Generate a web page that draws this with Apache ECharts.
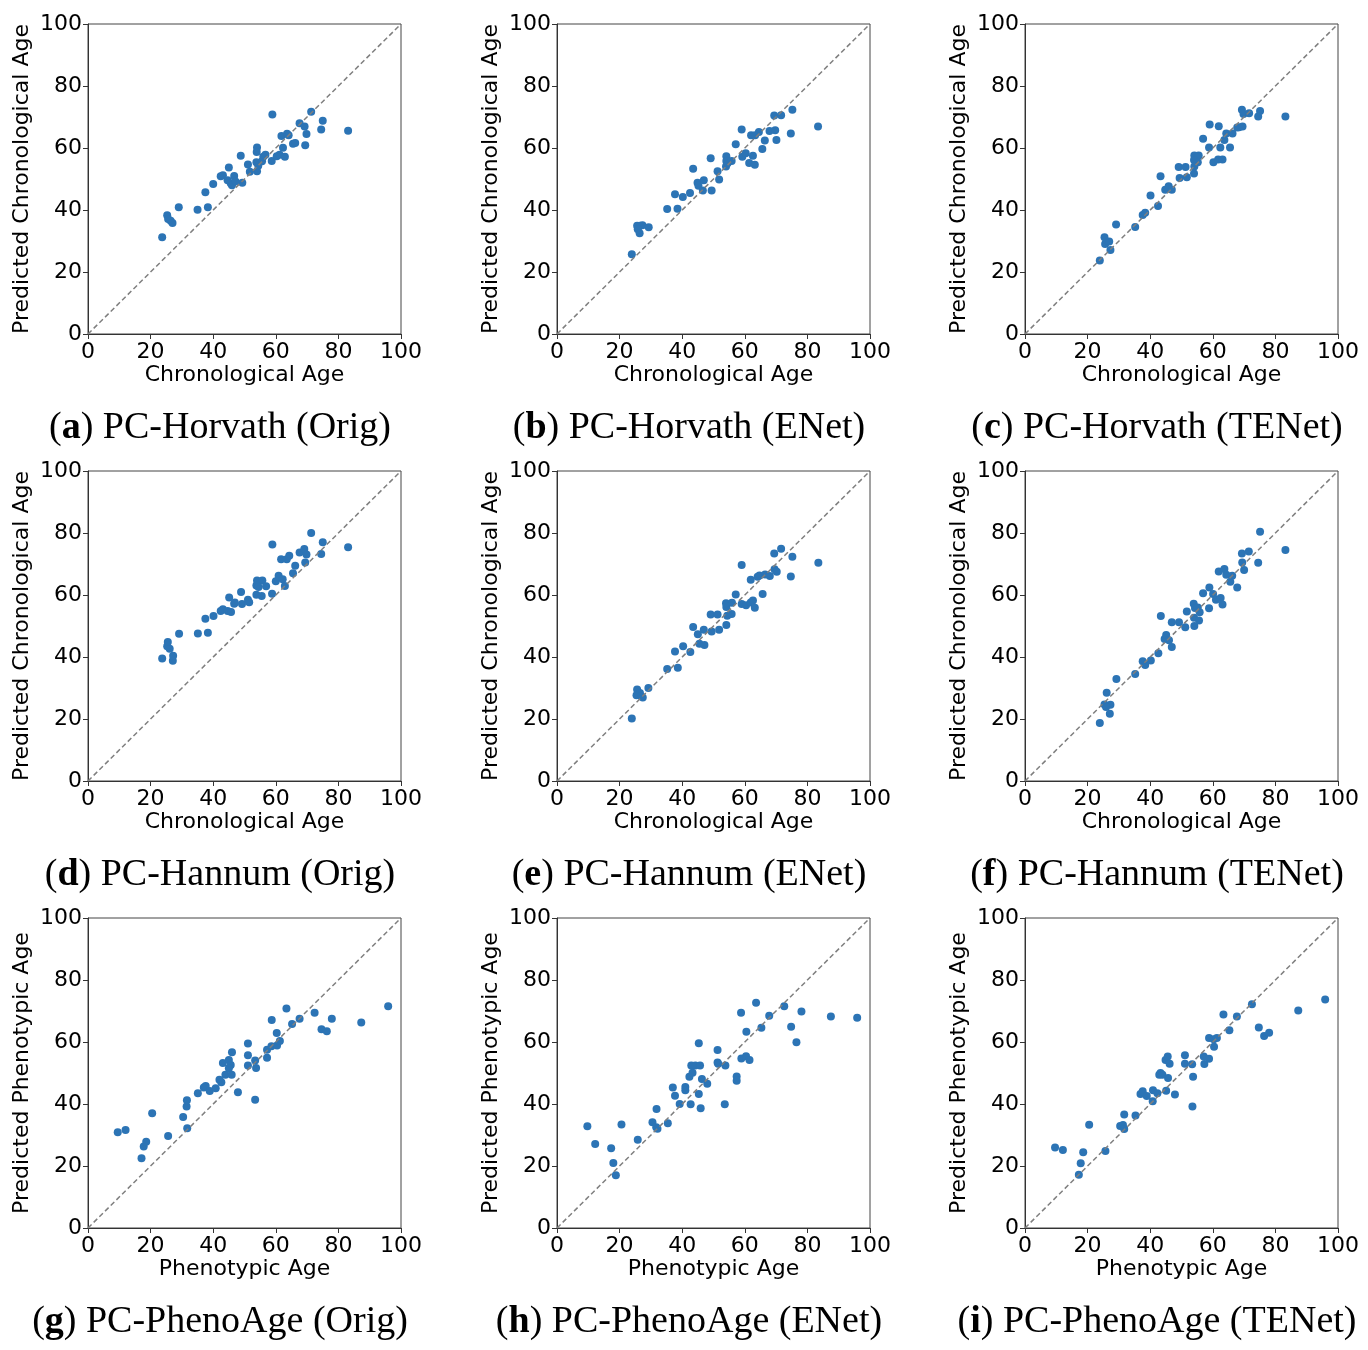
<!DOCTYPE html>
<html>
<head>
<meta charset="utf-8">
<script src="https://cdn.jsdelivr.net/npm/echarts@6/dist/echarts.min.js"></script>
<style>
html,body{margin:0;padding:0;background:#fff;}
#chart{width:1368px;height:1350px;}
</style>
</head>
<body>
<div id="chart"></div>
<script>
const horvathOrig = [[23.7,31.2],[25.3,38.3],[25.6,37.1],[26.4,36.5],[27.0,35.8],[29.0,40.9],[35.0,40.1],[37.5,45.7],[38.3,40.9],[40.0,48.4],[42.4,50.9],[43.1,51.2],[45.0,53.7],[44.6,49.6],[45.6,48.6],[46.0,48.0],[46.7,51.0],[47.1,49.2],[48.8,57.5],[49.3,48.8],[51.1,54.7],[51.7,52.3],[54.0,60.2],[53.9,58.7],[53.8,55.4],[54.0,52.5],[54.4,54.3],[55.6,55.7],[56.0,57.2],[56.7,57.8],[58.9,70.8],[58.7,55.8],[60.3,57.3],[61.2,57.8],[62.9,57.2],[62.3,60.1],[61.8,63.9],[63.6,64.6],[64.1,64.1],[65.5,61.4],[66.2,61.6],[67.6,68.0],[69.2,66.9],[69.8,64.5],[69.4,60.9],[71.3,71.7],[75.0,68.8],[74.5,66.0],[83.1,65.6]];
const horvathENet = [[23.9,25.7],[25.6,34.9],[26.5,34.9],[27.3,35.1],[25.8,33.8],[26.4,32.5],[29.3,34.4],[35.2,40.3],[38.5,40.4],[37.7,45.1],[40.2,44.2],[42.5,45.5],[43.5,53.3],[44.9,48.8],[45.2,47.8],[46.9,49.6],[46.6,46.3],[49.4,46.3],[49.1,56.7],[51.3,52.5],[51.8,49.8],[54.1,57.3],[54.1,55.8],[54.0,54.0],[54.5,55.1],[55.8,55.8],[57.1,61.2],[59.0,66.0],[59.2,57.2],[60.3,58.3],[61.4,55.2],[62.6,57.5],[63.2,54.6],[62.0,64.1],[63.3,64.1],[64.5,65.2],[65.6,59.7],[66.4,62.4],[67.9,65.5],[69.7,65.7],[70.1,62.6],[69.4,70.5],[71.6,70.6],[75.2,72.3],[74.7,64.7],[83.4,66.9]];
const horvathTENet = [[23.9,23.7],[27.3,27.1],[25.4,31.2],[25.6,29.0],[26.9,29.8],[29.1,35.3],[35.2,34.5],[37.6,38.4],[38.4,39.1],[42.5,41.3],[40.1,44.7],[43.3,50.9],[44.8,46.5],[45.9,47.7],[46.9,46.5],[49.1,53.9],[51.3,53.9],[49.4,50.3],[51.7,50.6],[54.0,51.8],[54.1,57.6],[55.5,57.6],[54.0,56.1],[55.2,55.4],[54.1,54.0],[56.9,63.0],[58.8,60.2],[59.0,67.6],[60.2,55.4],[61.7,56.3],[63.1,56.3],[62.4,60.2],[61.9,67.0],[63.7,62.6],[64.3,64.7],[65.5,60.2],[66.3,64.7],[67.8,66.6],[68.4,66.7],[69.5,66.9],[69.3,72.3],[69.8,71.0],[71.6,71.2],[75.1,71.9],[74.5,70.2],[83.2,70.2]];
const hannumOrig = [[23.7,39.5],[27.1,38.8],[27.2,40.4],[26.1,42.7],[25.3,43.5],[25.5,44.8],[29.1,47.5],[35.1,47.6],[38.3,47.8],[37.5,52.3],[40.1,53.2],[42.4,54.8],[43.1,55.4],[44.6,54.8],[45.7,54.5],[45.1,59.2],[46.7,57.2],[46.9,57.6],[48.9,61.0],[49.2,57.1],[51.1,58.5],[51.5,57.7],[54.0,64.7],[55.7,64.7],[53.8,63.1],[54.5,62.6],[56.9,62.8],[53.8,60.1],[55.5,59.7],[58.8,60.4],[58.9,76.3],[60.0,64.4],[60.9,66.2],[62.2,65.1],[62.9,62.9],[61.7,71.5],[63.5,71.5],[64.3,72.7],[65.5,67.0],[66.2,69.4],[67.6,73.7],[69.1,74.8],[69.8,73.1],[69.4,70.5],[71.3,80.0],[75.0,77.0],[74.5,73.2],[83.1,75.4]];
const hannumENet = [[23.9,20.2],[25.6,29.5],[26.5,28.4],[25.4,27.7],[26.9,27.3],[27.4,26.9],[29.2,30.0],[35.2,36.1],[38.6,36.5],[37.7,41.8],[40.3,43.5],[42.6,41.6],[43.5,49.7],[45.0,47.3],[45.5,44.3],[47.1,43.9],[46.9,48.8],[49.4,48.2],[49.1,53.7],[51.3,53.7],[51.8,48.8],[54.1,50.3],[54.1,56.1],[54.0,57.3],[54.4,53.3],[55.8,53.9],[55.9,57.5],[57.1,60.2],[59.0,69.7],[59.0,57.1],[60.4,56.7],[61.9,57.6],[62.6,58.2],[63.2,55.9],[61.9,64.9],[64.1,65.9],[64.7,66.3],[65.7,60.3],[66.5,66.6],[68.0,66.1],[69.5,68.3],[70.2,67.5],[69.4,73.4],[71.6,74.9],[75.2,72.3],[74.7,66.0],[83.5,70.4]];
const hannumTENet = [[23.9,18.7],[27.1,21.7],[27.3,24.6],[25.4,24.7],[25.9,23.9],[26.1,28.5],[29.2,32.9],[35.2,34.5],[37.6,38.6],[38.4,37.4],[40.2,38.9],[42.6,41.2],[43.4,53.2],[44.6,45.8],[45.1,47.1],[46.0,45.4],[46.9,43.2],[46.9,51.2],[49.2,51.2],[51.2,49.6],[51.7,54.7],[54.1,50.0],[54.0,52.7],[53.9,57.2],[54.3,55.8],[55.2,56.0],[55.8,54.4],[55.6,51.8],[56.9,60.6],[58.8,55.7],[58.9,62.4],[60.1,60.3],[61.0,58.5],[62.5,59.0],[63.1,56.9],[61.9,67.6],[63.7,68.4],[64.3,66.5],[66.2,66.2],[65.6,64.3],[67.8,62.4],[69.4,70.5],[70.0,68.1],[69.3,73.4],[71.5,74.0],[75.1,80.4],[74.5,70.4],[83.2,74.5]];
const phenoOrig = [[9.5,30.9],[12.0,31.6],[17.1,22.5],[17.8,26.3],[18.6,27.8],[20.5,37.0],[25.6,29.7],[30.4,35.8],[31.5,39.2],[31.6,41.2],[31.7,32.2],[35.1,43.5],[37.0,45.3],[37.6,45.8],[38.9,44.2],[40.8,45.1],[42.0,47.8],[42.6,47.0],[43.9,49.4],[43.1,53.2],[45.0,54.2],[45.6,52.6],[45.0,51.5],[46.0,56.7],[45.9,49.4],[47.9,43.8],[51.1,59.5],[51.1,55.7],[51.1,52.4],[53.4,54.0],[53.7,51.6],[53.4,41.4],[57.2,57.5],[57.2,54.9],[58.7,67.1],[58.6,58.6],[60.3,62.9],[60.4,58.9],[61.3,60.3],[63.4,70.8],[65.2,65.8],[67.6,67.5],[72.4,69.4],[74.6,64.1],[76.3,63.5],[77.9,67.5],[87.3,66.3],[95.9,71.5]];
const phenoENet = [[9.7,32.8],[12.2,27.1],[17.3,25.7],[18.0,21.0],[18.8,17.0],[20.6,33.4],[25.8,28.5],[30.5,34.1],[31.7,32.5],[31.8,38.4],[32.1,32.0],[35.4,33.8],[37.0,45.3],[37.7,42.7],[39.2,40.0],[41.0,45.5],[41.0,44.4],[42.7,39.9],[42.3,48.8],[43.3,50.1],[42.9,52.4],[44.2,52.4],[45.7,52.4],[45.3,59.6],[46.3,48.1],[45.3,43.2],[45.9,38.6],[48.0,46.5],[51.3,57.4],[51.3,53.4],[51.5,53.0],[53.8,52.4],[53.6,39.9],[57.4,48.9],[57.4,47.5],[58.8,69.4],[58.9,54.7],[60.4,55.4],[61.5,54.2],[60.5,63.3],[63.6,72.7],[65.3,64.6],[67.8,68.5],[72.6,71.5],[74.8,64.9],[76.5,59.9],[78.1,69.8],[87.5,68.2],[95.9,67.8]];
const phenoTENet = [[9.6,26.0],[12.1,25.2],[17.2,17.2],[17.8,20.9],[18.6,24.4],[20.5,33.3],[25.7,24.8],[30.4,32.9],[31.3,33.2],[31.7,36.6],[31.7,31.9],[35.3,36.3],[36.9,43.2],[37.6,44.1],[38.9,42.6],[40.8,40.9],[40.9,44.4],[42.3,43.5],[42.9,49.4],[43.3,50.0],[43.9,49.4],[45.1,44.3],[44.9,54.2],[45.6,55.3],[46.2,53.0],[45.7,48.4],[47.9,43.1],[51.1,55.7],[51.1,53.0],[53.4,52.8],[53.7,48.8],[53.5,39.2],[57.1,55.3],[57.3,52.9],[58.8,54.6],[58.8,61.3],[60.3,60.9],[61.3,61.3],[60.4,58.5],[63.4,68.9],[65.3,63.8],[67.7,68.2],[72.5,72.2],[74.7,64.7],[76.4,61.9],[78.0,63.0],[87.3,70.2],[95.9,73.7]];
const identityLine = [[0,0],[100,100]];

const panelData = [horvathOrig, horvathENet, horvathTENet, hannumOrig, hannumENet, hannumTENet, phenoOrig, phenoENet, phenoTENet];
const panelLetters = ['a','b','c','d','e','f','g','h','i'];
const panelNames = ['PC-Horvath (Orig)','PC-Horvath (ENet)','PC-Horvath (TENet)','PC-Hannum (Orig)','PC-Hannum (ENet)','PC-Hannum (TENet)','PC-PhenoAge (Orig)','PC-PhenoAge (ENet)','PC-PhenoAge (TENet)'];
const xNames = ['Chronological Age','Chronological Age','Phenotypic Age'];
const yNames = ['Predicted Chronological Age','Predicted Chronological Age','Predicted Phenotypic Age'];
const axisMin = 0, axisMax = 100, axisStep = 20;

// ---- layout ----
const colLeft = [88, 557, 1025];
const rowTop = [24, 471, 918];
const plotW = 313, plotH = 310;
const capX = [220, 689, 1157];
const capY = [428, 875, 1322];
const FONT = 'DejaVu Sans';

const grids = [], xAxes = [], yAxes = [], series = [], graphics = [];
panelData.forEach((d, i) => {
  const r = Math.floor(i / 3), c = i % 3;
  grids.push({left: colLeft[c], top: rowTop[r], width: plotW, height: plotH, show: true, borderColor: '#444', borderWidth: 1, backgroundColor: '#fff'});
  const common = {
    type: 'value', gridIndex: i, min: axisMin, max: axisMax, interval: axisStep,
    splitLine: {show: false},
    axisLine: {show: true, onZero: false, lineStyle: {color: '#333', width: 1}},
    axisTick: {show: true, inside: false, length: 5, lineStyle: {color: '#333'}},
    nameLocation: 'middle',
    nameTextStyle: {fontFamily: FONT, fontSize: 22, color: '#000'}
  };
  xAxes.push(Object.assign({}, common, {
    name: xNames[r], nameGap: 30,
    axisLabel: {fontFamily: FONT, fontSize: 22, color: '#000', margin: 7, showMinLabel: true, showMaxLabel: true, hideOverlap: false}
  }));
  yAxes.push(Object.assign({}, common, {
    name: yNames[r], nameGap: 55,
    axisLabel: {fontFamily: FONT, fontSize: 22, color: '#000', margin: 6, showMinLabel: true, showMaxLabel: true, hideOverlap: false}
  }));
  series.push({
    type: 'scatter', xAxisIndex: i, yAxisIndex: i, data: d,
    symbolSize: 8, itemStyle: {color: '#2c74b5', opacity: 1}, z: 2, silent: true
  });
  series.push({
    type: 'line', xAxisIndex: i, yAxisIndex: i, data: identityLine,
    showSymbol: false, symbol: 'none', z: 3, silent: true,
    lineStyle: {color: '#7f7f7f', width: 1.5, type: [5, 3]}
  });
  graphics.push({
    type: 'text', x: capX[c], y: capY[r],
    style: {
      text: '(' + '{b|' + panelLetters[i] + '}) ' + panelNames[i],
      fontFamily: 'Liberation Serif', fontSize: 38, fill: '#000',
      align: 'center', verticalAlign: 'middle',
      rich: {b: {fontFamily: 'Liberation Serif', fontSize: 38, fontWeight: 'bold', fill: '#000'}}
    }
  });
});

const chart = echarts.init(document.getElementById('chart'), null, {renderer: 'canvas'});
chart.setOption({
  animation: false,
  backgroundColor: '#fff',
  grid: grids, xAxis: xAxes, yAxis: yAxes, series: series, graphic: graphics
});
</script>
</body>
</html>
